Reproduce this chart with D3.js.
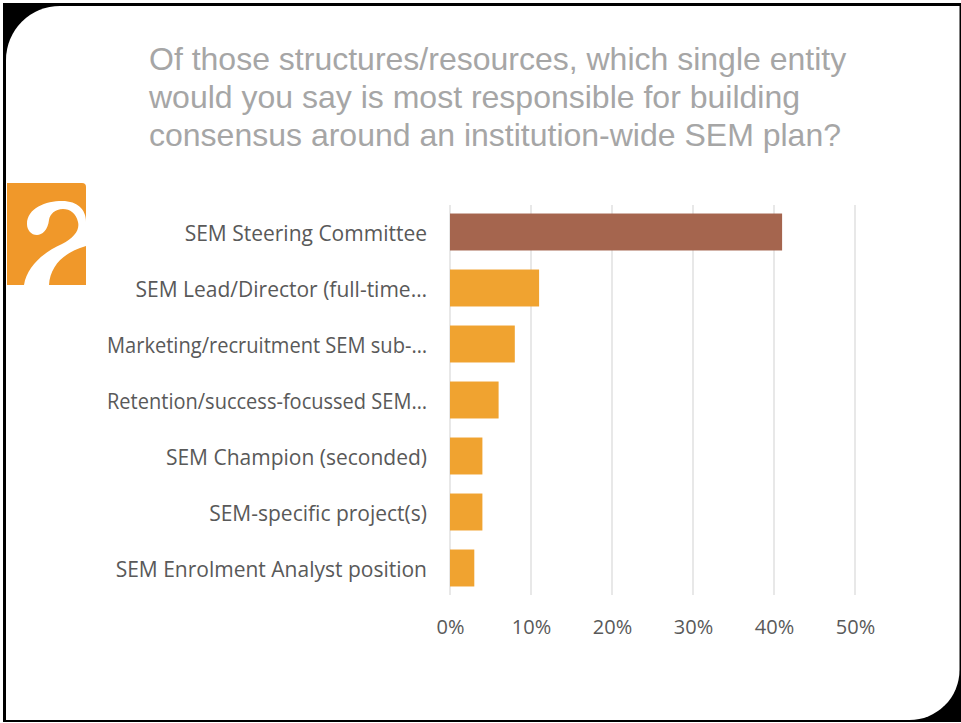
<!DOCTYPE html>
<html>
<head>
<meta charset="utf-8">
<script src="https://cdn.jsdelivr.net/npm/d3@7"></script>
<style>
  html, body { margin: 0; padding: 0; background: #fff; }
  svg { display: block; }
</style>
</head>
<body>
<svg id="chart" width="961" height="723"></svg>
<script>
// Survey question and answer data
const titleLines = [
  "Of those structures/resources, which single entity",
  "would you say is most responsible for building",
  "consensus around an institution-wide SEM plan?"
];
const categories = [
  "SEM Steering Committee",
  "SEM Lead/Director (full-time…",
  "Marketing/recruitment SEM sub-…",
  "Retention/success-focussed SEM…",
  "SEM Champion (seconded)",
  "SEM-specific project(s)",
  "SEM Enrolment Analyst position"
];
const shares = [0.41, 0.11, 0.08, 0.06, 0.04, 0.04, 0.03];
const xTicks = [0, 0.1, 0.2, 0.3, 0.4, 0.5];

const svg = d3.select("#chart");
const W = 961, H = 723;

// Slide frame: black border with rounded top-left and bottom-right corners
svg.append("rect").attr("x", 0).attr("y", 0).attr("width", W).attr("height", H).attr("fill", "#fff");
svg.append("rect").attr("x", 3).attr("y", 3).attr("width", 958).attr("height", 719).attr("fill", "#000");
const L = 6, T = 6, R = 959.5, B = 720, r1 = 54, r2 = 50;
const card = d3.path();
card.moveTo(L, T + r1);
card.arcTo(L, T, L + r1, T, r1);
card.lineTo(R, T);
card.lineTo(R, B - r2);
card.arcTo(R, B, R - r2, B, r2);
card.lineTo(L, B);
card.closePath();
svg.append("path").attr("d", card.toString()).attr("fill", "#fff");

// Logo mark
const logo = svg.append("g");
logo.append("path")
  .attr("d", "M7,183 H82 Q86,183 86,187 V285 H7 Z")
  .attr("fill", "#F0982A");
logo.append("path")
  .attr("d", "M27,224 C27,208 46,201 62,201 C78,201 86,210 86,222 L86,246 C64,252 50,266 49,285 L24,285 C27,266 44,252 62,244 C74,238 80,230 78,222 C76,213 70,209 63,209 C55,209 50,214 49,220 C48,230 42,235 37,235 C31,235 27,230 27,224 Z")
  .attr("fill", "#fff");

// Title
const title = svg.append("text")
  .attr("x", 149)
  .attr("font-family", "'Liberation Sans', Arial, sans-serif")
  .attr("font-size", 32)
  .attr("fill", "#A6A6A6");
titleLines.forEach((t, i) => {
  title.append("tspan").attr("x", 149).attr("y", 70 + i * 38).text(t);
});

// Plot area
const plot = { left: 450, right: 855, top: 204, bottom: 596 };
const x = d3.scaleLinear().domain([0, 0.5]).range([plot.left, plot.right]);
const y = d3.scaleBand().domain(categories).range([plot.top, plot.bottom]).paddingInner(0.34).paddingOuter(0.17);

// Vertical gridlines
svg.append("g")
  .selectAll("line")
  .data(xTicks)
  .join("line")
  .attr("x1", d => x(d)).attr("x2", d => x(d))
  .attr("y1", plot.top + 1).attr("y2", plot.bottom - 1)
  .attr("stroke", "#D9D9D9")
  .attr("stroke-width", 1.2);

// Bars
svg.append("g")
  .selectAll("rect")
  .data(categories)
  .join("rect")
  .attr("x", x(0))
  .attr("y", d => y(d))
  .attr("width", (d, i) => x(shares[i]) - x(0))
  .attr("height", y.bandwidth())
  .attr("fill", (d, i) => i === 0 ? "#A5654E" : "#F0A330");

// Category axis labels (long labels are fitted into the label column)
const labelMax = 320;
const yAxis = d3.axisLeft(y).tickSize(0).tickPadding(23);
const gy = svg.append("g").attr("transform", `translate(${plot.left},0)`).call(yAxis);
gy.select(".domain").remove();
gy.selectAll("text")
  .attr("font-family", "'Open Sans', sans-serif")
  .attr("font-size", 21)
  .attr("dy", "0.42em")
  .attr("fill", "#595959")
  .each(function () {
    const w = this.getComputedTextLength();
    if (w > labelMax) {
      d3.select(this).attr("textLength", labelMax).attr("lengthAdjust", "spacingAndGlyphs");
    }
  });

// Percentage axis labels
const xAxis = d3.axisBottom(x).tickValues(xTicks).tickFormat(d3.format(".0%")).tickSize(0).tickPadding(24);
const gx = svg.append("g").attr("transform", `translate(0,${plot.bottom})`).call(xAxis);
gx.select(".domain").remove();
gx.selectAll("text")
  .attr("font-family", "'Open Sans', sans-serif")
  .attr("font-size", 20)
  .attr("fill", "#595959");
</script>
</body>
</html>
